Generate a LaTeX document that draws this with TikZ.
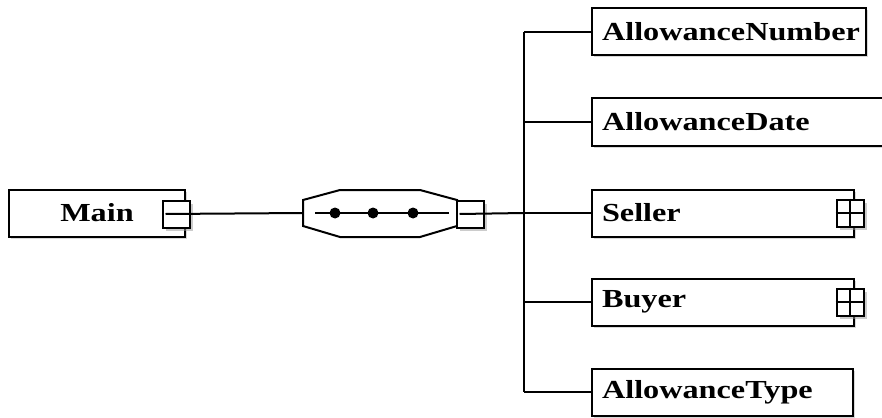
\documentclass[tikz,border=0pt]{standalone}
\usepackage{fontspec}
\setmainfont{Liberation Serif}[FakeStretch=1.24]
\usetikzlibrary{shadows}

\tikzset{
  elem/.style={draw,line width=2pt,fill=white,minimum height=47pt,inner ysep=0pt,
    font=\fontsize{26}{30}\selectfont\bfseries,
    drop shadow={shadow xshift=2pt,shadow yshift=-2pt,fill=black!30}},
  leaf/.style={elem,anchor=west,inner xsep=10pt,align=left},
  toggle/.style={draw,line width=2pt,fill=white,minimum size=27pt,inner sep=0pt,
    drop shadow={shadow xshift=3pt,shadow yshift=-3pt,fill=black!40}}
}

\begin{document}
\begin{tikzpicture}[x=1pt,y=-1pt,line width=2pt]
    \useasboundingbox (0,0) rectangle (882,417);

    % Main element
    \node[elem,minimum width=176pt] (main) at (97,213) {Main};
    \node[toggle] (mainsq) at (176,214) {};

    % Sequence
    \coordinate (seqin) at (303,213);
    \draw[fill=white] (303,200) -- (340,190) -- (420,190) -- (457,200)
    -- (457,226) -- (420,237) -- (340,237) -- (303,226) -- cycle;
    \draw (315,213) -- (449,213);
    \fill (335,213) circle (5.5) (373,213) circle (5.5) (413,213) circle (5.5);
    \node[toggle] (seqsq) at (470,214) {};
    \draw ([xshift=4pt]mainsq.west) -- (seqin);

    % Children
    \node[leaf,text width=254pt] (num) at (591,32) {AllowanceNumber};
    \node[leaf,text width=280pt] (date) at (591,122) {AllowanceDate};
    \node[leaf,text width=242pt] (seller) at (591,213) {Seller};
    \node[leaf,text width=242pt] (buyer) at (591,302) {Buyer};
    \node[leaf,text width=241pt] (type) at (591,392) {AllowanceType};
    \node[toggle] (sellersq) at ([xshift=-5pt]seller.east) {};
    \node[toggle] (buyersq) at ([xshift=-5pt]buyer.east) {};
    \foreach \sq in {sellersq,buyersq}
      \draw (\sq.north) -- (\sq.south) (\sq.west) -- (\sq.east);

    % Connectors
    \coordinate (trunk) at (524,213);
    \draw ([xshift=4pt]seqsq.west) -- (trunk);
    \draw (num.west -| trunk) -- (type.west -| trunk);
    \foreach \n in {num,date,seller,buyer,type}
      \draw (\n.west) -- (\n.west -| trunk);
\end{tikzpicture}
\end{document}
